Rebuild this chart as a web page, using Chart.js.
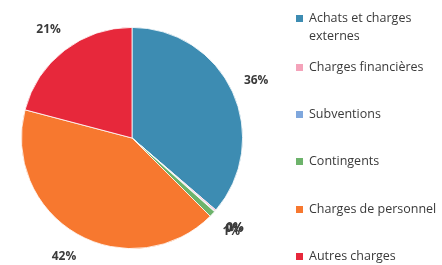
<!DOCTYPE html>
<html>
<head>
<meta charset="utf-8">
<script src="https://cdn.jsdelivr.net/npm/chart.js@4"></script>
<style>
  html, body { margin: 0; padding: 0; background: #fff; overflow: hidden; }
  #wrap { position: relative; width: 442px; height: 265px; overflow: hidden; }
  #legende { position: absolute; left: 296px; top: 0; font-family: "Open Sans", Lato, sans-serif; font-size: 12.5px; color: #3a3a3a; }
  .item { position: absolute; left: 0; white-space: nowrap; line-height: 18px; }
  .item span.carre { position: absolute; left: 0; top: 6px; width: 7px; height: 7px; }
  .item span.txt { position: absolute; left: 13px; top: 0; }
</style>
</head>
<body>
<div id="wrap">
  <canvas id="camembert" width="442" height="265"></canvas>
  <div id="legende"></div>
</div>
<script>
const categories = ['Achats et charges\nexternes', 'Charges financières', 'Subventions', 'Contingents', 'Charges de personnel', 'Autres charges'];
const valeurs = [36.3, 0.2, 0.1, 0.9, 41.6, 20.9];
const etiquettes = ['36%', '0%', '0%', '1%', '42%', '21%'];
const couleurs = ['#3d8cb2', '#f4a3ba', '#7fa7dd', '#6db36b', '#f7782f', '#e7283b'];

// Légende HTML (texte sur deux lignes pour le premier élément)
const legende = document.getElementById('legende');
const hauteurs = [9, 58, 105, 152, 200, 247];
categories.forEach((cat, i) => {
    const div = document.createElement('div');
    div.className = 'item';
    div.style.top = hauteurs[i] + 'px';
    div.innerHTML = `<span class="carre" style="background:${couleurs[i]}"></span><span class="txt">${cat.replace('\n', '<br>')}</span>`;
    legende.appendChild(div);
});

// Étiquettes de pourcentage à l'extérieur du camembert
const pluginEtiquettes = {
    id: 'etiquettes',
    afterDraw(chart) {
        const ctx = chart.ctx;
        const arcs = chart.getDatasetMeta(0).data;
        ctx.save();
        ctx.font = 'bold 12px "Open Sans", Lato, sans-serif';
        ctx.fillStyle = '#3a3a3a';
        ctx.textAlign = 'center';
        ctx.textBaseline = 'middle';
        arcs.forEach((arc, i) => {
            const p = arc.getProps(['x', 'y', 'startAngle', 'endAngle', 'outerRadius'], true);
            const a = (p.startAngle + p.endAngle) / 2;
            const d = p.outerRadius + 26;
            ctx.fillText(etiquettes[i], p.x + Math.cos(a) * d, p.y + Math.sin(a) * d);
        });
        ctx.restore();
    }
};

new Chart(document.getElementById('camembert'), {
    type: 'pie',
    data: {
        labels: categories,
        datasets: [{
            data: valeurs,
            backgroundColor: couleurs,
            borderColor: '#ffffff',
            borderWidth: 0.8
        }]
    },
    options: {
        responsive: false,
        animation: false,
        layout: { padding: { left: 21, right: 199, top: 27, bottom: 16 } },
        plugins: {
            legend: { display: false },
            tooltip: { enabled: false }
        }
    },
    plugins: [pluginEtiquettes]
});
</script>
</body>
</html>
